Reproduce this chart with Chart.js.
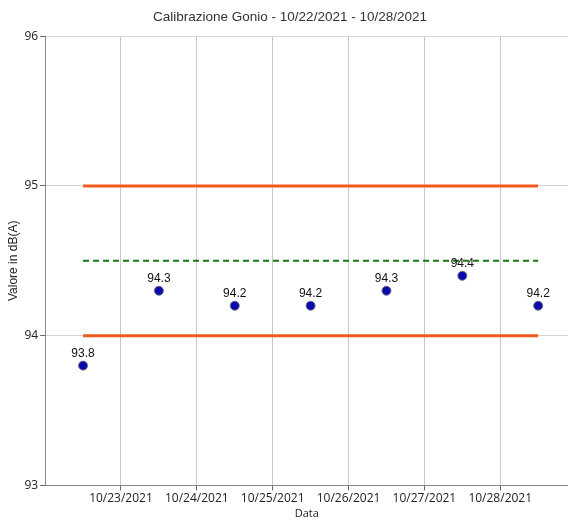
<!DOCTYPE html>
<html>
<head>
<meta charset="utf-8">
<script src="https://cdn.jsdelivr.net/npm/chart.js@4.4.0/dist/chart.umd.min.js"></script>
<style>
  html, body { margin: 0; padding: 0; background: #fff; overflow: hidden; }
  #outer { width: 568px; height: 520px; overflow: hidden; }
  #wrap { width: 574px; height: 520px; }
</style>
</head>
<body>
<div id="outer"><div id="wrap"><canvas id="chart"></canvas></div></div>
<script>
const dates = ['10/22/2021', '10/23/2021', '10/24/2021', '10/25/2021', '10/26/2021', '10/27/2021', '10/28/2021'];
const values = [93.8, 94.3, 94.2, 94.2, 94.3, 94.4, 94.2];
const upperLimit = [95, 95, 95, 95, 95, 95, 95];
const lowerLimit = [94, 94, 94, 94, 94, 94, 94];
const target = [94.5, 94.5, 94.5, 94.5, 94.5, 94.5, 94.5];
const yTicks = [93, 94, 95, 96];

// days from first date, measurements sit at midday
const day0 = Date.parse(dates[0]);
const dayOf = d => (Date.parse(d) - day0) / 86400000;
const xs = dates.map(d => dayOf(d) + 0.5);
const pts = arr => arr.map((v, i) => ({ x: xs[i], y: v }));

const pointLabels = {
    id: 'pointLabels',
    afterDatasetsDraw(chart) {
        const ctx = chart.ctx;
        const meta = chart.getDatasetMeta(3);
        ctx.save();
        ctx.font = '12px "Liberation Sans", Arial, sans-serif';
        ctx.fillStyle = '#111';
        ctx.textAlign = 'center';
        ctx.textBaseline = 'bottom';
        meta.data.forEach((el, i) => {
            ctx.fillText(values[i].toFixed(1), el.x, el.y - 6);
        });
        ctx.restore();
    }
};

const ctx = document.getElementById('chart').getContext('2d');
const myChart = new Chart(ctx, {
    type: 'scatter',
    data: {
        datasets: [{
            type: 'line',
            data: pts(upperLimit),
            borderColor: 'rgb(240, 90, 30)',
            borderWidth: 3,
            pointRadius: 0
        }, {
            type: 'line',
            data: pts(lowerLimit),
            borderColor: 'rgb(240, 90, 30)',
            borderWidth: 3,
            pointRadius: 0
        }, {
            type: 'line',
            data: pts(target),
            borderColor: 'rgb(20, 120, 20)',
            borderWidth: 2,
            borderDash: [6, 4],
            pointRadius: 0
        }, {
            data: pts(values),
            backgroundColor: 'rgb(10, 10, 170)',
            borderColor: 'rgb(110, 110, 130)',
            borderWidth: 1,
            pointRadius: 4.5
        }]
    },
    options: {
        responsive: true,
        maintainAspectRatio: false,
        animation: false,
        layout: { padding: { left: 6, right: 0, top: 4, bottom: 0 } },
        scales: {
            x: {
                type: 'linear',
                min: 0,
                max: 6.9,
                afterBuildTicks: axis => {
                    axis.ticks = dates.slice(1).map(d => ({ value: dayOf(d) }));
                },
                ticks: {
                    callback: v => dates[Math.round(v)],
                    color: '#222',
                    font: { family: '"Open Sans", sans-serif', size: 12 },
                    maxRotation: 0,
                    padding: 1
                },
                grid: { color: '#c8c8c8', tickLength: 5, tickColor: '#666' },
                border: { color: '#888' },
                title: {
                    display: true,
                    text: 'Data',
                    color: '#222',
                    font: { family: '"Open Sans", sans-serif', size: 11 },
                    padding: { top: 0, bottom: 0 }
                }
            },
            y: {
                min: 93,
                max: 96,
                afterBuildTicks: axis => {
                    axis.ticks = yTicks.map(v => ({ value: v }));
                },
                ticks: {
                    color: '#222',
                    font: { family: '"Open Sans", sans-serif', size: 12 },
                    padding: 2
                },
                grid: { color: '#d4d4d4', tickLength: 5, tickColor: '#666' },
                border: { color: '#888' },
                title: {
                    display: true,
                    text: 'Valore in dB(A)',
                    color: '#222',
                    font: { family: '"Liberation Sans", Arial, sans-serif', size: 12 },
                    padding: { top: 0, bottom: 2 }
                }
            }
        },
        plugins: {
            legend: { display: false },
            tooltip: { enabled: false },
            title: {
                display: true,
                text: 'Calibrazione Gonio - 10/22/2021 - 10/28/2021',
                color: '#333',
                font: { family: '"Liberation Sans", Arial, sans-serif', size: 13.5, weight: 'normal' },
                padding: { top: 5, bottom: 11 }
            }
        }
    },
    plugins: [pointLabels]
});
</script>
</body>
</html>
